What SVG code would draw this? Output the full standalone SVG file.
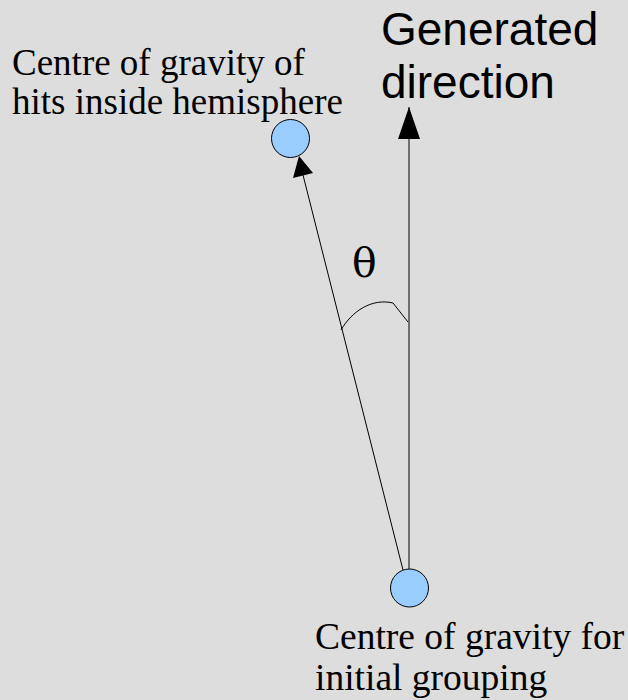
<svg xmlns="http://www.w3.org/2000/svg" width="628" height="700" viewBox="0 0 628 700">
<style>
.serif{font-family:"Liberation Serif","Times New Roman",serif;font-size:37px;fill:#000}
.sans{font-family:"Liberation Sans",Arial,sans-serif;font-size:46px;fill:#000}
.node{fill:#99ccff;stroke:#000;stroke-width:1}
.conn{stroke:#000;stroke-width:1;fill:none}
.head{fill:#000}
</style>
<rect width="628" height="700" fill="#dddddd"/>
<g id="connectors">
<line class="conn" x1="409" y1="569" x2="409" y2="107" stroke="#444"/>
<path class="head" d="M409,139 L398,139 L409,107 L420,139 Z"/>
<line class="conn" x1="403" y1="570" x2="303" y2="175"/>
<path class="head" d="M299,156 L313,173 L293,178 Z"/>
<path class="conn" d="M341,330 C352,311 372,298 393,303 L408,322"/>
</g>
<g id="theta"><text x="352" y="277" style="font-family:'DejaVu Serif',serif;font-size:41px;fill:#000">θ</text></g>
<g id="label-generated">
<text class="sans" x="381" y="45">Generated</text>
<text class="sans" x="381" y="98">direction</text>
</g>
<g id="node-hits">
<circle class="node" cx="290.5" cy="138.5" r="19"/>
<text class="serif" x="12" y="75">Centre of gravity of</text>
<text class="serif" x="12" y="114">hits inside hemisphere</text>
</g>
<g id="node-initial">
<circle class="node" cx="409.5" cy="588" r="19"/>
<text class="serif" x="315" y="649" style="font-size:37.5px">Centre of gravity for</text>
<text class="serif" x="315" y="690" style="font-size:37.5px">initial grouping</text>
</g>
</svg>
